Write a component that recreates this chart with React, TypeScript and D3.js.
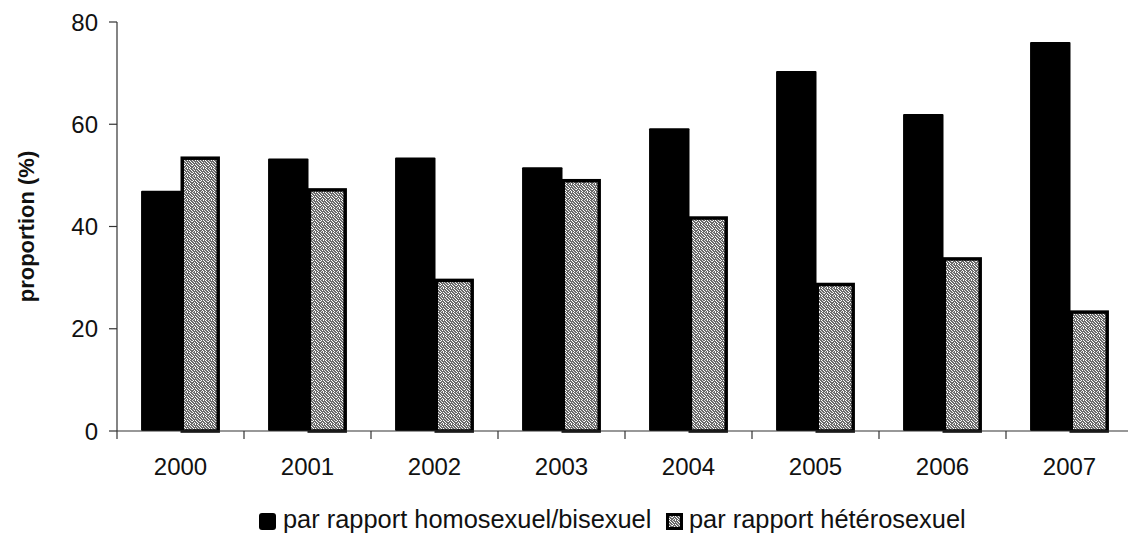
import { scaleBand, scaleLinear } from "d3";

// values
const years = ["2000", "2001", "2002", "2003", "2004", "2005", "2006", "2007"];
const homoBi = [47, 53.3, 53.5, 51.6, 59.2, 70.4, 62, 76.1];
const hetero = [53.7, 47.5, 29.8, 49.3, 42, 29, 34, 23.6];
const seriesNames = ["par rapport homosexuel/bisexuel", "par rapport hétérosexuel"];
const yTicks = [0, 20, 40, 60, 80];

// light flecks of the stippled fill (8x8 tile, hand placed)
const flecks = [
  [0, 0], [3, 0], [5, 0], [1, 1], [6, 1], [2, 2], [4, 2], [7, 2], [0, 3], [5, 3],
  [1, 4], [3, 4], [6, 4], [0, 5], [4, 5], [7, 5], [2, 6], [5, 6], [1, 7], [3, 7], [6, 7],
];

const W = 1128;
const H = 534;
const font = "'Liberation Sans', Arial, sans-serif";

export default function App() {
  const x0 = scaleBand<string>().domain(years).range([117, 1133]).padding(0);
  const x1 = scaleBand<string>()
    .domain(["a", "b"])
    .range([0, x0.bandwidth()])
    .paddingInner(0)
    .paddingOuter(0.61);
  const y = scaleLinear().domain([0, 80]).range([431, 22]);
  const bw = x1.bandwidth();
  const sw = 3.5; // border of the speckled bars

  return (
    <svg width={W} height={H} style={{ position: "absolute", left: 0, top: 0 }} fontFamily={font}>
      <defs>
        <pattern id="speckle" width="8" height="8" patternUnits="userSpaceOnUse">
          <rect width="8" height="8" fill="#6a6a6a" />
          {flecks.map(([fx, fy], k) => (
            <rect key={k} x={fx} y={fy} width="1" height="1" fill={k % 3 === 0 ? "#ddd" : "#fff"} />
          ))}
        </pattern>
      </defs>
      <rect width={W} height={H} fill="#fff" />

      {/* bars */}
      {years.map((yr, i) => {
        const gx = x0(yr)!;
        return (
          <g key={yr}>
            <rect x={gx + x1("a")!} y={y(homoBi[i])} width={bw + 1} height={y(0) - y(homoBi[i])} fill="#000" rx={1} />
            <rect
              x={gx + x1("b")! + sw / 2}
              y={y(hetero[i]) + sw / 2}
              width={bw - sw}
              height={y(0) - y(hetero[i]) - sw / 2}
              fill="url(#speckle)"
              stroke="#000"
              strokeWidth={sw}
            />
          </g>
        );
      })}

      {/* y axis */}
      <line x1={117} x2={117} y1={y(80)} y2={y(0)} stroke="#333" strokeWidth={1.2} />
      {yTicks.map((t) => (
        <g key={t}>
          <line x1={109} x2={117} y1={y(t)} y2={y(t)} stroke="#333" strokeWidth={1.2} />
          <text x={98} y={y(t)} textAnchor="end" dominantBaseline="central" fontSize={24} fill="#111">
            {t}
          </text>
        </g>
      ))}
      <text
        transform={`translate(34,${(y(0) + y(80)) / 2}) rotate(-90)`}
        textAnchor="middle"
        fontSize={22}
        fontWeight="bold"
        fill="#111"
      >
        proportion (%)
      </text>

      {/* x axis */}
      <line x1={117} x2={W} y1={y(0)} y2={y(0)} stroke="#333" strokeWidth={1.2} />
      {years.map((yr) => (
        <line key={yr} x1={x0(yr)!} x2={x0(yr)!} y1={y(0)} y2={y(0) + 8} stroke="#333" strokeWidth={1.2} />
      ))}
      {years.map((yr) => (
        <text key={yr} x={x0(yr)! + x0.bandwidth() / 2} y={475} textAnchor="middle" fontSize={24} fill="#111">
          {yr}
        </text>
      ))}

      {/* legend */}
      <rect x={259} y={513} width={17} height={17} rx={3} fill="#000" />
      <text x={283} y={528} fontSize={25.4} fill="#111">{seriesNames[0]}</text>
      <rect x={667.5} y={514.5} width={14} height={14} fill="url(#speckle)" stroke="#000" strokeWidth={3} />
      <text x={689} y={528} fontSize={25.4} fill="#111">{seriesNames[1]}</text>
    </svg>
  );
}
